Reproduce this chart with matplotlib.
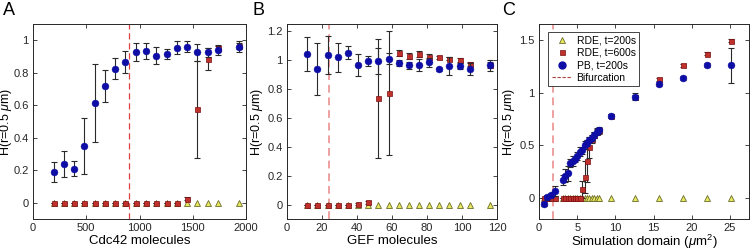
import matplotlib
matplotlib.use("Agg")
import matplotlib.pyplot as plt
from matplotlib.ticker import FuncFormatter
from matplotlib.lines import Line2D

plt.rcParams['font.family'] = ['Liberation Sans', 'DejaVu Sans']
plt.rcParams['mathtext.fontset'] = 'custom'
plt.rcParams['mathtext.it'] = 'Liberation Sans:italic'
plt.rcParams['mathtext.rm'] = 'Liberation Sans'

# ---------------- Panel A ----------------
a_x = [193, 289, 386, 482, 579, 675, 772, 868, 965, 1061, 1158, 1254, 1351, 1447, 1544, 1640, 1737, 1930]
a_rde200 = [0.0] * 18
a_rde600 = [0.0] * 13 + [0.025, 0.575, 0.885, 0.955, 0.965]
a_rde600_err = [0.0] * 13 + [0.01, 0.30, 0.065, 0.012, 0.02]
a_pb = [0.19, 0.24, 0.21, 0.35, 0.615, 0.717, 0.825, 0.866, 0.93, 0.934, 0.905, 0.917, 0.955, 0.96, 0.925, 0.925, 0.94, 0.96]
a_pb_err = [0.06, 0.08, 0.045, 0.17, 0.24, 0.10, 0.065, 0.066, 0.056, 0.05, 0.053, 0.03, 0.04, 0.035, 0.05, 0.03, 0.03, 0.035]
a_bif = 905

# ---------------- Panel B ----------------
b_x = [11.6, 17.4, 23.2, 29.0, 34.8, 40.6, 46.4, 52.2, 58.0, 63.8, 69.6, 75.4, 81.2, 87.0, 92.8, 98.6, 104.4, 116.0]
b_rde200 = [0.0] * 18
b_rde600 = [0, 0, 0, 0, 0, 0.005, 0.015, 0.735, 0.77, 1.05, 1.03, 1.04, 1.025, 1.02, 1.01, 1.0, 0.975, 0.965]
b_rde600_err = [0, 0, 0, 0, 0, 0.005, 0.01, 0.41, 0.43, 0.02, 0.02, 0.02, 0.015, 0.01, 0.01, 0.015, 0.015, 0.02]
b_pb = [1.045, 0.937, 1.035, 1.02, 1.05, 0.965, 0.995, 0.995, 1.01, 0.98, 0.965, 0.967, 0.985, 0.937, 0.96, 0.96, 0.94, 0.963]
b_pb_err = [0.117, 0.18, 0.13, 0.1, 0.045, 0.075, 0.035, 0.09, 0.04, 0.02, 0.025, 0.04, 0.03, 0.01, 0.065, 0.02, 0.04, 0.035]
b_bif = 24.2

# ---------------- Panel C ----------------
c_x = [0.63, 1.1, 1.57, 2.04, 3.14, 3.46, 3.77, 4.08, 4.40, 4.71, 5.03, 5.34, 5.65, 5.97, 6.28,
       6.60, 6.91, 7.23, 7.54, 7.85, 9.42, 12.57, 15.71, 18.85, 21.99, 25.13]
c_rde200 = [0.0] * 26
c_rde600 = [0, 0, 0, 0, 0, 0, 0, 0, 0, 0, 0, 0, 0.08, 0.2, 0.35, 0.48, 0.56, 0.6, 0.63, 0.64,
            0.78, 0.96, 1.125, 1.26, 1.37, 1.49]
c_rde600_err = [0, 0, 0, 0, 0, 0, 0, 0, 0, 0, 0, 0, 0.08, 0.15, 0.2, 0.1, 0.04, 0.03, 0.02, 0.02,
                0.02, 0.02, 0.015, 0.015, 0.015, 0.015]
c_pb = [-0.06, 0.005, 0.025, 0.065, 0.17, 0.21, 0.235, 0.33, 0.35, 0.37, 0.40, 0.44, 0.45, 0.50, 0.52,
        0.55, 0.57, 0.60, 0.63, 0.64, 0.78, 0.96, 1.08, 1.14, 1.26, 1.26]
c_pb_err = [0.02, 0.02, 0.02, 0.05, 0.05, 0.06, 0.07, 0.04, 0.05, 0.03, 0.04, 0.04, 0.03, 0.04, 0.03,
            0.03, 0.03, 0.03, 0.03, 0.03, 0.02, 0.035, 0.02, 0.02, 0.02, 0.165]
c_bif = 1.78

legend_labels = ['RDE, t=200s', 'RDE, t=600s', 'PB, t=200s', 'Bifurcation']

BLUE = '#0e0ea6'
RED = '#c0302c'
RED_EDGE = '#7a1010'
YEL = '#e8e860'
YEL_EDGE = '#6b6b2a'
ERR = '#2a2a2a'

fig = plt.figure(figsize=(7.51, 2.52), dpi=100)
W, H = 751, 252


def mkax(l, r, t=24, b=219):
    return fig.add_axes([l / W, 1 - b / H, (r - l) / W, (b - t) / H])


axA = mkax(33, 246)
axB = mkax(287, 497)
axC = mkax(539, 749)


def draw(ax, x, r200, r600, r600e, pb, pbe, bif, bifstyle):
    ax.axvline(bif, **bifstyle, zorder=1)
    ax.plot(x, r200, linestyle='none', marker='^', ms=4.6, mfc=YEL, mec=YEL_EDGE, mew=0.6, zorder=3)
    ax.errorbar(x, r600, yerr=r600e, fmt='none', ecolor=ERR, elinewidth=0.8, capsize=2, capthick=0.8, zorder=4)
    ax.plot(x, r600, linestyle='none', marker='s', ms=3.6, mfc=RED, mec=RED_EDGE, mew=0.5, zorder=5)
    ax.errorbar(x, pb, yerr=pbe, fmt='none', ecolor=ERR, elinewidth=0.8, capsize=2, capthick=0.8, zorder=6)
    ax.plot(x, pb, linestyle='none', marker='o', ms=5, mfc=BLUE, mec=BLUE, mew=0.3, zorder=7)


draw(axA, a_x, a_rde200, a_rde600, a_rde600_err, a_pb, a_pb_err, a_bif,
     dict(color='#e04040', lw=0.9, ls=(0, (5, 3))))
draw(axB, b_x, b_rde200, b_rde600, b_rde600_err, b_pb, b_pb_err, b_bif,
     dict(color='#eea0a0', lw=1.4, ls=(0, (4, 2.5))))
draw(axC, c_x, c_rde200, c_rde600, c_rde600_err, c_pb, c_pb_err, c_bif,
     dict(color='#eea0a0', lw=1.4, ls=(0, (4, 2.5))))

axA.set_xlim(0, 2000)
axA.set_ylim(-0.1, 1.1)
axA.set_xticks([0, 500, 1000, 1500, 2000])
axA.set_yticks([0, 0.2, 0.4, 0.6, 0.8, 1.0])
axA.set_xlabel('Cdc42 molecules', fontsize=9.5, labelpad=1)

axB.set_xlim(0, 120)
axB.set_ylim(-0.1, 1.25)
axB.set_xticks([0, 20, 40, 60, 80, 100, 120])
axB.set_yticks([0, 0.2, 0.4, 0.6, 0.8, 1.0, 1.2])
axB.set_xlabel('GEF molecules', fontsize=9.5, labelpad=1)

axC.set_xlim(0, 27.5)
axC.set_ylim(-0.2, 1.65)
axC.set_xticks([0, 5, 10, 15, 20, 25])
axC.set_yticks([0, 0.5, 1.0, 1.5])
axC.set_xlabel(r'Simulation domain ($\mu$m$^2$)', fontsize=9.5, labelpad=0)

fmt = FuncFormatter(lambda v, p: ('%g' % round(v, 6)))
for ax, lx in ((axA, -0.087), (axB, -0.104), (axC, -0.104)):
    ax.set_ylabel(r'H(r=0.5 $\mu$m)', fontsize=9)
    ax.yaxis.set_label_coords(lx, 0.5)
    ax.xaxis.set_major_formatter(fmt)
    ax.yaxis.set_major_formatter(fmt)
    ax.tick_params(direction='in', top=True, right=True, length=3, width=0.6,
                   labelsize=8, colors='#262626', pad=3)
    for s in ax.spines.values():
        s.set_linewidth(0.7)
        s.set_color('#262626')

handles = [
    Line2D([], [], ls='none', marker='^', ms=4.6, mfc=YEL, mec=YEL_EDGE, mew=0.6),
    Line2D([], [], ls='none', marker='s', ms=3.6, mfc=RED, mec=RED_EDGE, mew=0.5),
    Line2D([], [], ls='none', marker='o', ms=5, mfc=BLUE, mec=BLUE),
    Line2D([], [], color='#b04040', lw=0.8, ls=(0, (3, 1.5))),
]
leg = axC.legend(handles, legend_labels, loc='upper left', fontsize=7.5, frameon=True,
                 fancybox=False, edgecolor='#262626', framealpha=1, borderpad=0.3,
                 labelspacing=0.25, handlelength=2.0, handletextpad=0.4,
                 bbox_to_anchor=(0.02, 0.985))
leg.get_frame().set_linewidth(0.6)

for lbl, xp in (('A', 3), ('B', 252), ('C', 502)):
    fig.text(xp / W, 1 - 2 / H, lbl, fontsize=13, va='top', ha='left')

fig.savefig('out.png', dpi=100)
